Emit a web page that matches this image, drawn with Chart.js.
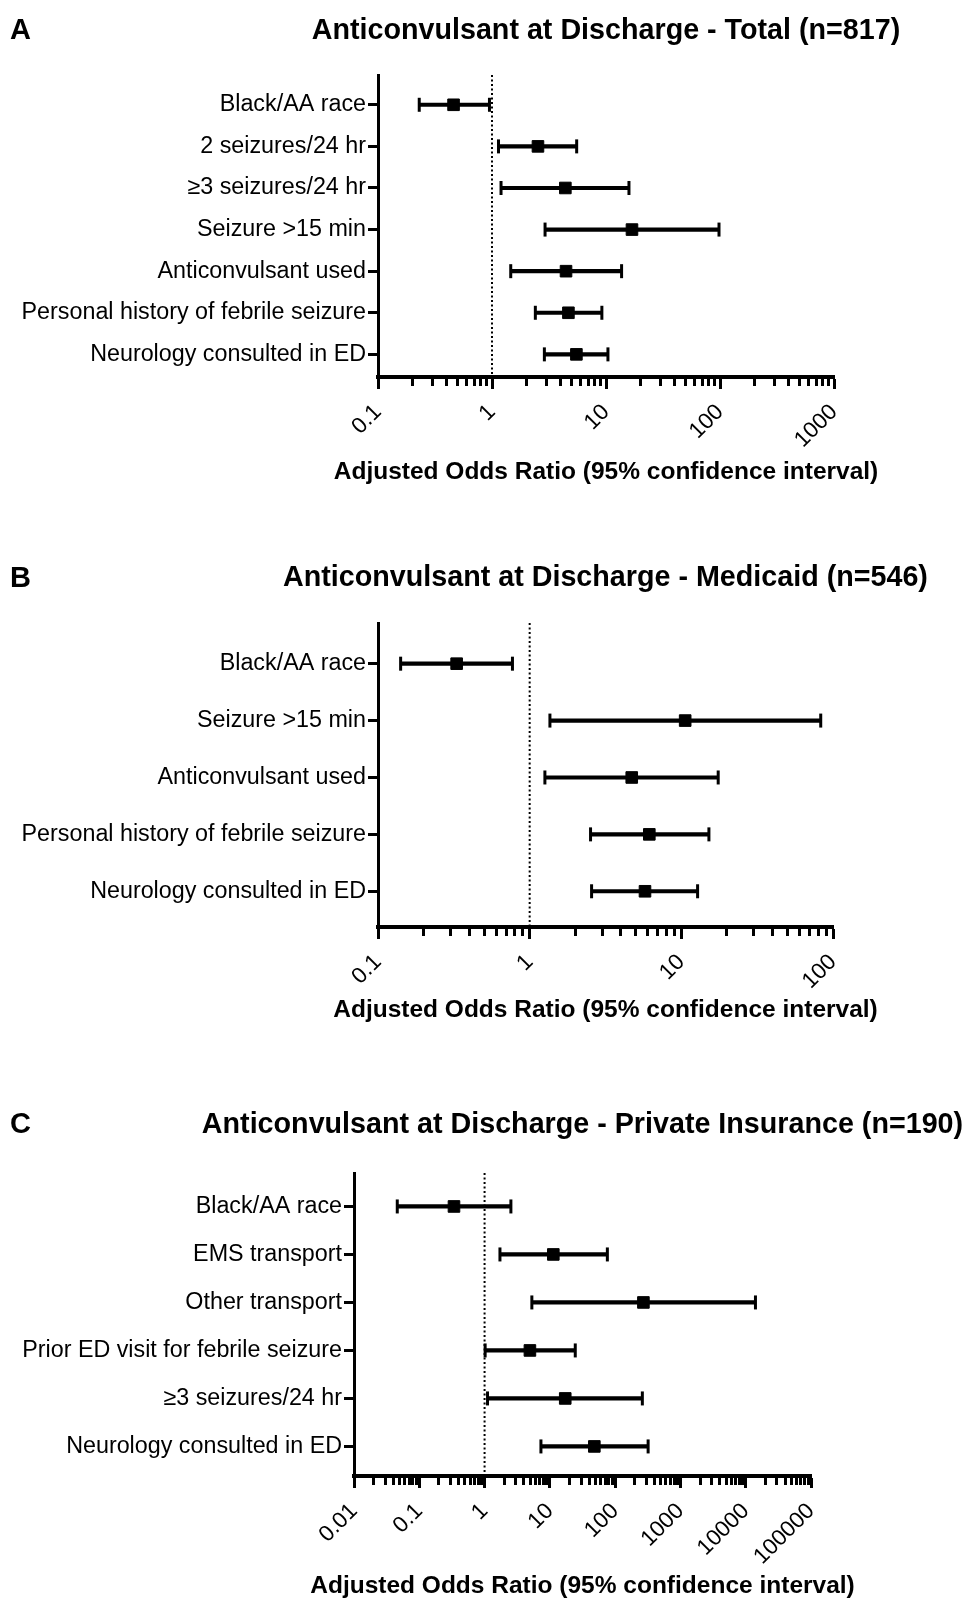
<!DOCTYPE html>
<html>
<head>
<meta charset="utf-8">
<script src="https://cdn.jsdelivr.net/npm/chart.js@4.4.1/dist/chart.umd.min.js"></script>
<style>
html,body{margin:0;padding:0;background:#fff;width:966px;height:1598px;overflow:hidden;}
body{position:relative;}
canvas{position:absolute;left:0;}
.txt{position:absolute;font-family:"Liberation Sans",Arial,Helvetica,sans-serif;font-weight:bold;color:#000;white-space:nowrap;line-height:34px;}
.ttl{font-size:28.7px;text-align:center;width:1200px;}
.let{font-size:29px;left:10px;}
.axt{font-size:24.5px;text-align:center;width:800px;}
</style>
</head>
<body>
<canvas id="cA" width="966" height="500" style="top:0px"></canvas>
<canvas id="cB" width="966" height="500" style="top:540px"></canvas>
<canvas id="cC" width="966" height="518" style="top:1080px"></canvas>

<div class="txt let" style="top:12px">A</div>
<div class="txt ttl" style="top:12px;left:6px">Anticonvulsant at Discharge - Total (n=817)</div>
<div class="txt axt" id="axA" style="top:454px;left:206px"></div>
<div class="txt let" style="top:560px">B</div>
<div class="txt ttl" style="top:559px;left:5.5px">Anticonvulsant at Discharge - Medicaid (n=546)</div>
<div class="txt axt" id="axB" style="top:992px;left:205.5px"></div>
<div class="txt let" style="top:1106px">C</div>
<div class="txt ttl" style="top:1106px;left:-17.5px">Anticonvulsant at Discharge - Private Insurance (n=190)</div>
<div class="txt axt" id="axC" style="top:1568px;left:182.5px"></div>

<script>
// ---------- DATA ----------
const labelsA = ['Black/AA race','2 seizures/24 hr','\u22653 seizures/24 hr','Seizure >15 min','Anticonvulsant used','Personal history of febrile seizure','Neurology consulted in ED'];
const oddsA = [0.46, 2.53, 4.4, 16.9, 4.46, 4.68, 5.5];
const lowA  = [0.23, 1.14, 1.2, 2.92, 1.46, 2.4, 2.88];
const highA = [0.95, 5.53, 15.9, 98, 13.7, 9.2, 10.4];
const xTicksA = ['0.1','1','10','100','1000'];

const labelsB = ['Black/AA race','Seizure >15 min','Anticonvulsant used','Personal history of febrile seizure','Neurology consulted in ED'];
const oddsB = [0.33, 10.6, 4.71, 6.15, 5.76];
const lowB  = [0.141, 1.36, 1.26, 2.52, 2.56];
const highB = [0.77, 83, 17.5, 15.2, 12.8];
const xTicksB = ['0.1','1','10','100'];

const labelsC = ['Black/AA race','EMS transport','Other transport','Prior ED visit for febrile seizure','\u22653 seizures/24 hr','Neurology consulted in ED'];
const oddsC = [0.34, 11.3, 271, 4.95, 17.2, 48];
const lowC  = [0.046, 1.72, 5.3, 1.02, 1.11, 7.3];
const highC = [2.53, 76, 14100, 24.5, 261, 320];
const xTicksC = ['0.01','0.1','1','10','100','1000','10000','100000'];

const refLine = [1];
const axisTitle = 'Adjusted Odds Ratio (95% confidence interval)';
['axA','axB','axC'].forEach(id => { document.getElementById(id).textContent = axisTitle; });

// ---------- HELPERS ----------
const FONT = '"Liberation Sans", Arial, Helvetica, sans-serif';
function isPow10(v){ const l = Math.log10(v); return Math.abs(l - Math.round(l)) < 1e-6; }
function logTicks(min, max){
  const t = [];
  const e0 = Math.round(Math.log10(min)), e1 = Math.round(Math.log10(max));
  for (let e = e0; e < e1; e++) for (let m = 1; m <= 9; m++) t.push({value: Number((m*Math.pow(10,e)).toPrecision(10))});
  t.push({value: max});
  return t;
}

function makePanel(id, labels, odds, low, high, xTickLabels, L){
  const xmin = Number(xTickLabels[0]), xmax = Number(xTickLabels[xTickLabels.length-1]);
  const e0 = Math.round(Math.log10(xmin));
  const n = labels.length;
  const yMin = -L.padTopRows, yMax = (n-1) + L.padBotRows;
  new Chart(document.getElementById(id), {
    type: 'scatter',
    data: {
      datasets: [
        { // square markers
          type: 'scatter', order: 0,
          data: odds.map((v,i)=>({x:v, y:i})),
          pointStyle: 'rect', pointRadius: 8.2, pointBackgroundColor: '#000', pointBorderColor: '#000', pointBorderWidth: 1
        },
        { // caps
          type: 'scatter', order: 1,
          data: low.map((v,i)=>({x:v, y:i})).concat(high.map((v,i)=>({x:v, y:i}))),
          pointStyle: 'line', pointRotation: 90, pointRadius: 7, pointBorderColor: '#000', pointBorderWidth: 3
        },
        { // CI bars
          type: 'bar', indexAxis: 'y', order: 2,
          data: low.map((v,i)=>({y:i, x:[v, high[i]]})),
          backgroundColor: '#000', borderWidth: 0, barThickness: 3.5
        },
        { // reference line at OR = 1
          type: 'line', order: 3,
          data: [{x: refLine[0], y: yMin}, {x: refLine[0], y: yMax}],
          borderColor: '#000', borderWidth: 2, borderDash: [2, 2.5], pointRadius: 0, fill: false
        }
      ]
    },
    options: {
      responsive: false, animation: false,
      layout: { padding: { top: L.top, right: L.right, left: 0, bottom: 0 } },
      plugins: { legend: { display: false }, tooltip: { enabled: false } },
      scales: {
        x: {
          type: 'logarithmic', min: xmin, max: xmax, offset: false,
          afterBuildTicks: s => { s.ticks = logTicks(xmin, xmax); },
          afterFit: s => { s.height = L.xh; },
          ticks: {
            autoSkip: false, minRotation: 45, maxRotation: 45, padding: 10,
            color: '#000', font: { family: FONT, size: 22.5 },
            callback: v => isPow10(v) ? xTickLabels[Math.round(Math.log10(v)) - e0] : ''
          },
          grid: {
            display: true, offset: false, drawOnChartArea: false, drawTicks: true, tickLength: 12,
            tickWidth: 3, tickColor: '#000',
            tickBorderDash: ctx => (ctx.tick && isPow10(ctx.tick.value)) ? [] : [7, 40]
          },
          border: { display: true, width: 4, color: '#000' },
          title: { display: false }
        },
        y: {
          type: 'linear', reverse: true, min: yMin, max: yMax, offset: false,
          afterBuildTicks: s => { s.ticks = labels.map((_,i)=>({value:i})); },
          afterFit: s => { s.width = L.left; },
          ticks: {
            autoSkip: false, padding: 2, color: '#000',
            font: { family: FONT, size: 23.3 },
            callback: v => labels[v]
          },
          grid: { display: true, offset: false, drawOnChartArea: false, drawTicks: true, tickLength: 10, tickWidth: 3, tickColor: '#000' },
          border: { display: true, width: 3, color: '#000' }
        }
      }
    }
  });
}

makePanel('cA', labelsA, oddsA, lowA, highA, xTicksA, {top: 75, right: 132, left: 378, xh: 123, padTopRows: 0.716, padBotRows: 0.544});
makePanel('cB', labelsB, oddsB, lowB, highB, xTicksB, {top: 83, right: 133, left: 378, xh: 113, padTopRows: 0.715, padBotRows: 0.628});
makePanel('cC', labelsC, oddsC, lowC, highC, xTicksC, {top: 93, right: 155, left: 354, xh: 122, padTopRows: 0.697, padBotRows: 0.616});
</script>
</body>
</html>
